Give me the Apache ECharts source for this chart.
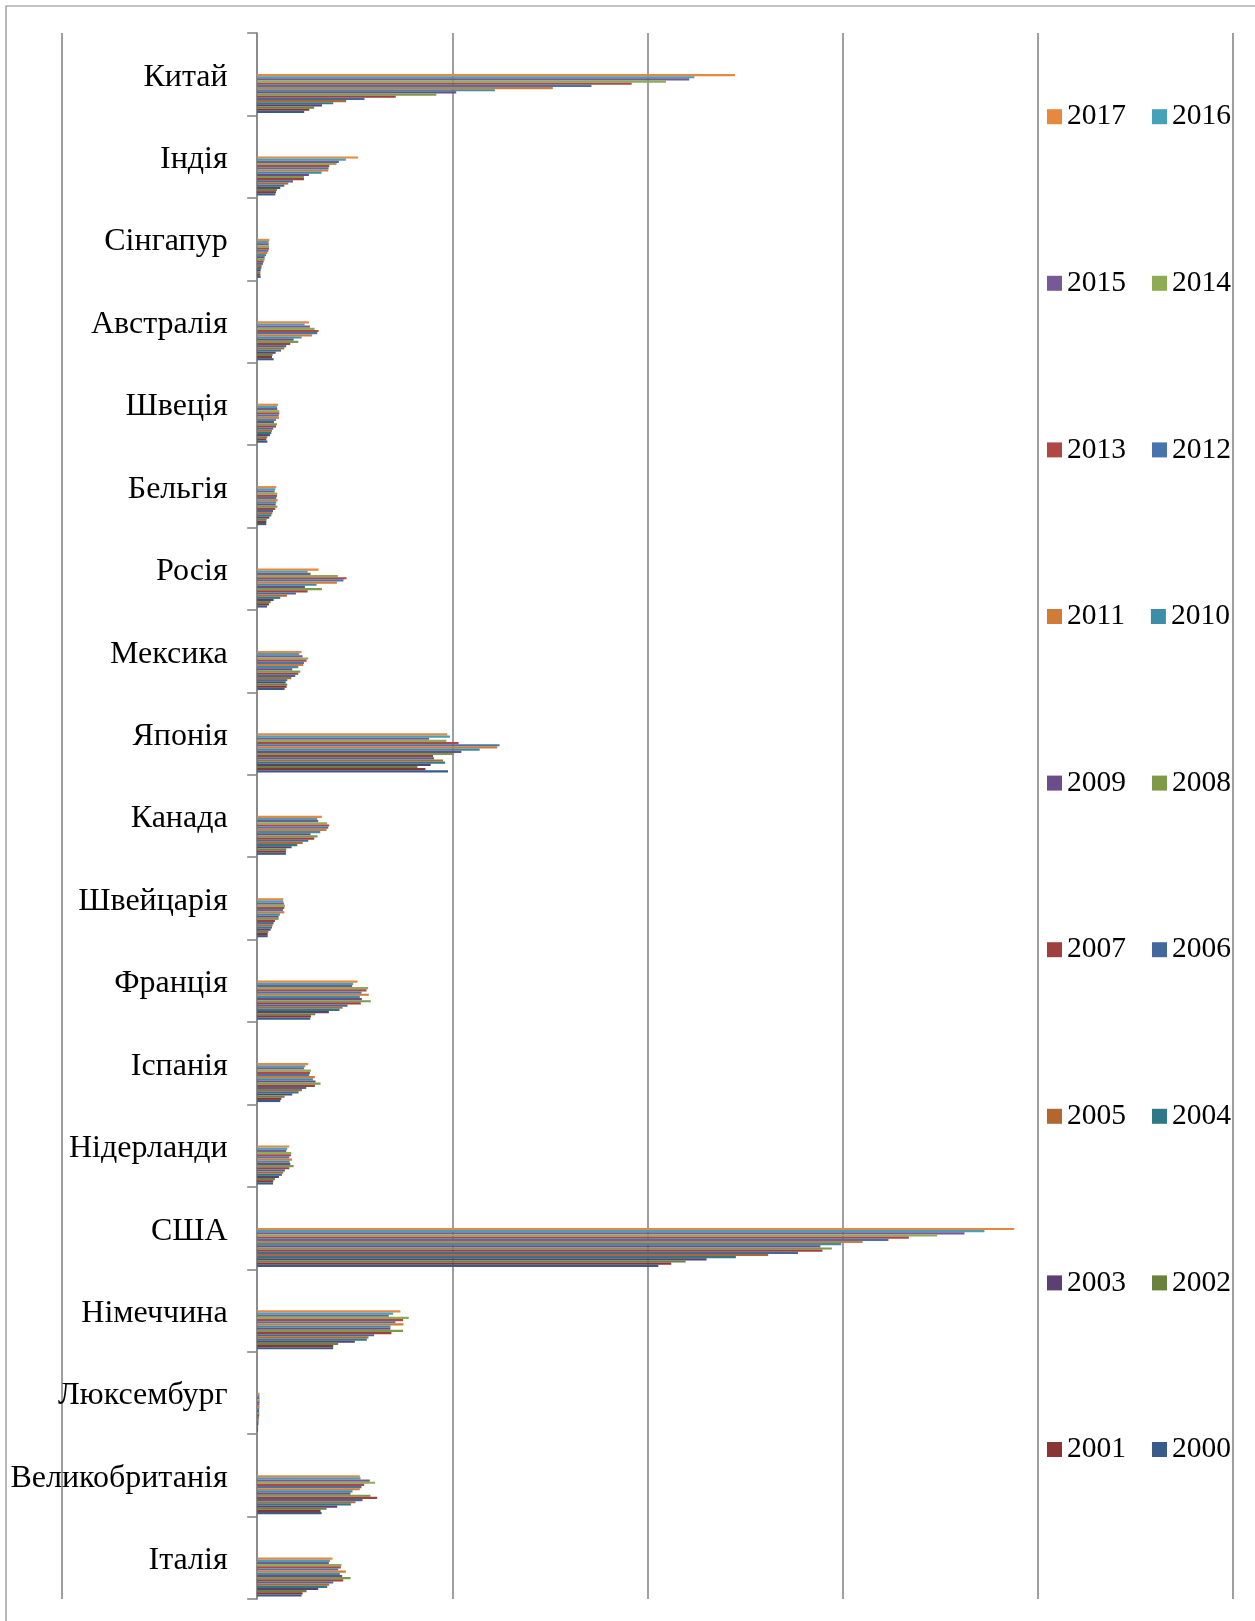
<!DOCTYPE html>
<html>
<head>
<meta charset="utf-8">
<script src="https://cdn.jsdelivr.net/npm/echarts@6.0.0/dist/echarts.min.js"></script>
<style>
  html, body { margin: 0; padding: 0; background: #ffffff; }
  #chart { width: 1255px; height: 1621px; }
</style>
</head>
<body>
<div id="chart"></div>
<script>
// GDP, billions of current US dollars, 2000–2017
const years = [2000, 2001, 2002, 2003, 2004, 2005, 2006, 2007, 2008,
               2009, 2010, 2011, 2012, 2013, 2014, 2015, 2016, 2017];

const countries = ['Китай', 'Індія', 'Сінгапур', 'Австралія', 'Швеція', 'Бельгія',
  'Росія', 'Мексика', 'Японія', 'Канада', 'Швейцарія', 'Франція', 'Іспанія',
  'Нідерланди', 'США', 'Німеччина', 'Люксембург', 'Великобританія', 'Італія'];

const china       = [1205, 1335, 1460, 1660, 1948, 2280, 2750, 3550, 4590, 5100, 6090, 7575, 8565, 9595, 10475, 11070, 11200, 12240];
const india       = [465, 482, 507, 592, 695, 797, 916, 1198, 1198, 1326, 1650, 1820, 1829, 1846, 2033, 2093, 2272, 2587];
const singapore   = [90, 81, 81, 90, 107, 115, 149, 166, 192, 192, 226, 260, 286, 303, 303, 294, 294, 311];
const australia   = [422, 379, 396, 473, 610, 695, 746, 848, 1053, 933, 1138, 1403, 1539, 1573, 1471, 1351, 1215, 1326];
const sweden      = [260, 234, 260, 328, 362, 379, 413, 482, 507, 431, 482, 558, 550, 567, 567, 516, 507, 533];
const belgium     = [234, 234, 243, 311, 362, 388, 405, 465, 516, 473, 490, 524, 490, 507, 516, 448, 465, 490];
const russia      = [251, 303, 345, 422, 592, 763, 993, 1292, 1658, 1223, 1522, 2042, 2212, 2289, 2067, 1368, 1292, 1573];
const mexico      = [703, 754, 771, 729, 771, 874, 976, 1053, 1104, 899, 1053, 1181, 1198, 1266, 1309, 1164, 1078, 1138];
const japan       = [4890, 4310, 4105, 4445, 4815, 4760, 4530, 4505, 5045, 5230, 5700, 6150, 6210, 5160, 4845, 4405, 4940, 4870];
const canada      = [737, 737, 746, 882, 1027, 1164, 1309, 1462, 1547, 1368, 1616, 1778, 1820, 1846, 1795, 1564, 1539, 1658];
const switzerland = [269, 269, 286, 345, 379, 396, 422, 456, 550, 550, 584, 695, 661, 695, 712, 686, 669, 669];
const france      = [1360, 1377, 1488, 1837, 2110, 2187, 2315, 2655, 2911, 2681, 2630, 2860, 2673, 2801, 2843, 2433, 2459, 2570];
const spain       = [592, 618, 703, 899, 1061, 1147, 1257, 1479, 1624, 1496, 1428, 1479, 1334, 1351, 1377, 1198, 1232, 1309];
const netherlands = [405, 413, 456, 558, 635, 669, 712, 823, 933, 848, 831, 891, 823, 865, 874, 746, 771, 823];
const usa         = [10277, 10608, 10978, 11513, 12264, 13092, 13856, 14480, 14722, 14429, 14964, 15511, 16173, 16696, 17421, 18122, 18632, 19396];
const germany     = [1948, 1948, 2076, 2502, 2809, 2852, 2997, 3440, 3738, 3414, 3414, 3747, 3542, 3738, 3883, 3372, 3482, 3670];
const luxembourg  = [22, 23, 25, 31, 35, 39, 44, 52, 56, 51, 53, 60, 56, 62, 66, 58, 60, 62];
const uk          = [1650, 1624, 1778, 2050, 2400, 2519, 2698, 3073, 2903, 2391, 2443, 2630, 2673, 2741, 3022, 2886, 2647, 2630];
const italy       = [1138, 1164, 1266, 1564, 1795, 1846, 1948, 2204, 2391, 2178, 2118, 2272, 2076, 2144, 2161, 1837, 1863, 1931];

// rows in the same order as `countries`
const rows = [china, india, singapore, australia, sweden, belgium, russia, mexico, japan,
  canada, switzerland, france, spain, netherlands, usa, germany, luxembourg, uk, italy];

// one colour per year, 2000 … 2017
const yearColors = ['#385B8A', '#893533', '#6A823B', '#5B4072', '#2E7888', '#B1672E',
                    '#43699C', '#A0403E', '#7F9A47', '#6A4D8A', '#3B8EA5', '#D17B38',
                    '#4874AE', '#B04744', '#8EAC52', '#765A97', '#45A0B9', '#E8883F'];

const FONT = '"Liberation Serif", "Times New Roman", serif';
const GRID_LEFT = 62, GRID_RIGHT = 22, GRID_TOP = 33, GRID_BOTTOM = 22;
const X_MIN = -5000, X_MAX = 25000;
const BAR_W = 2.17;

// the category axis sits on x = 0; labels are drawn from the grid edge,
// so shift them over to end just left of the zero line
const zeroPx = GRID_LEFT + (0 - X_MIN) / (X_MAX - X_MIN) * (1255 - GRID_LEFT - GRID_RIGHT);
const labelMargin = -(zeroPx - GRID_LEFT) + 29.5;

// empty slot that pushes each year group into the lower half of its band
const series = [{
  name: 'slot', type: 'bar', data: [], barWidth: 38.6, barGap: 0,
  silent: true
}];
// newest year first so it sits at the top of every group
for (let i = years.length - 1; i >= 0; i--) {
  series.push({
    name: String(years[i]),
    type: 'bar',
    data: rows.map(r => r[i]),
    barWidth: BAR_W,
    barGap: 0,
    itemStyle: { color: yearColors[i] },
    emphasis: { disabled: true },
    animation: false
  });
}

// legend: two years per row, newest first
const legends = [];
for (let r = 0; r < 9; r++) {
  const a = years[years.length - 1 - 2 * r];
  const b = years[years.length - 2 - 2 * r];
  legends.push({
    orient: 'horizontal',
    left: 1042,
    top: 113.7 + r * 166.6 - 17,
    data: [String(a), String(b)],
    icon: 'rect',
    itemWidth: 15,
    itemHeight: 15,
    itemGap: 26,
    selectedMode: false,
    textStyle: { fontFamily: FONT, fontSize: 29.5, color: '#000', padding: [0, 0, 0, 0] }
  });
}

const chart = echarts.init(document.getElementById('chart'), null, { renderer: 'canvas' });
chart.setOption({
  animation: false,
  backgroundColor: '#ffffff',
  legend: legends,
  grid: {
    left: GRID_LEFT, right: GRID_RIGHT, top: GRID_TOP, bottom: GRID_BOTTOM,
    containLabel: false, outerBoundsMode: 'none'
  },
  xAxis: {
    type: 'value',
    min: X_MIN, max: X_MAX, interval: 5000,
    axisLabel: { show: false },
    axisLine: { show: false },
    axisTick: { show: false },
    splitLine: { show: true, lineStyle: { color: '#878787', width: 1.6 } }
  },
  yAxis: {
    type: 'category',
    inverse: true,
    data: countries,
    axisLine: { show: true, onZero: true, lineStyle: { color: '#878787', width: 1.6 } },
    axisTick: { show: true, inside: false, length: 10, interval: 0,
                lineStyle: { color: '#878787', width: 1.6 } },
    // a short line box hung below the band centre drops each name a few pixels
    axisLabel: { interval: 0, margin: labelMargin, color: '#000', fontFamily: FONT,
                 fontSize: 32, verticalAlign: 'top', lineHeight: 6 },
    splitLine: { show: false }
  },
  graphic: [{
    type: 'rect',
    shape: { x: 6, y: 6, width: 1260, height: 1640 },
    style: { fill: 'none', stroke: '#8a8a8a', lineWidth: 1.2 },
    silent: true
  }],
  series: series
});
</script>
</body>
</html>
